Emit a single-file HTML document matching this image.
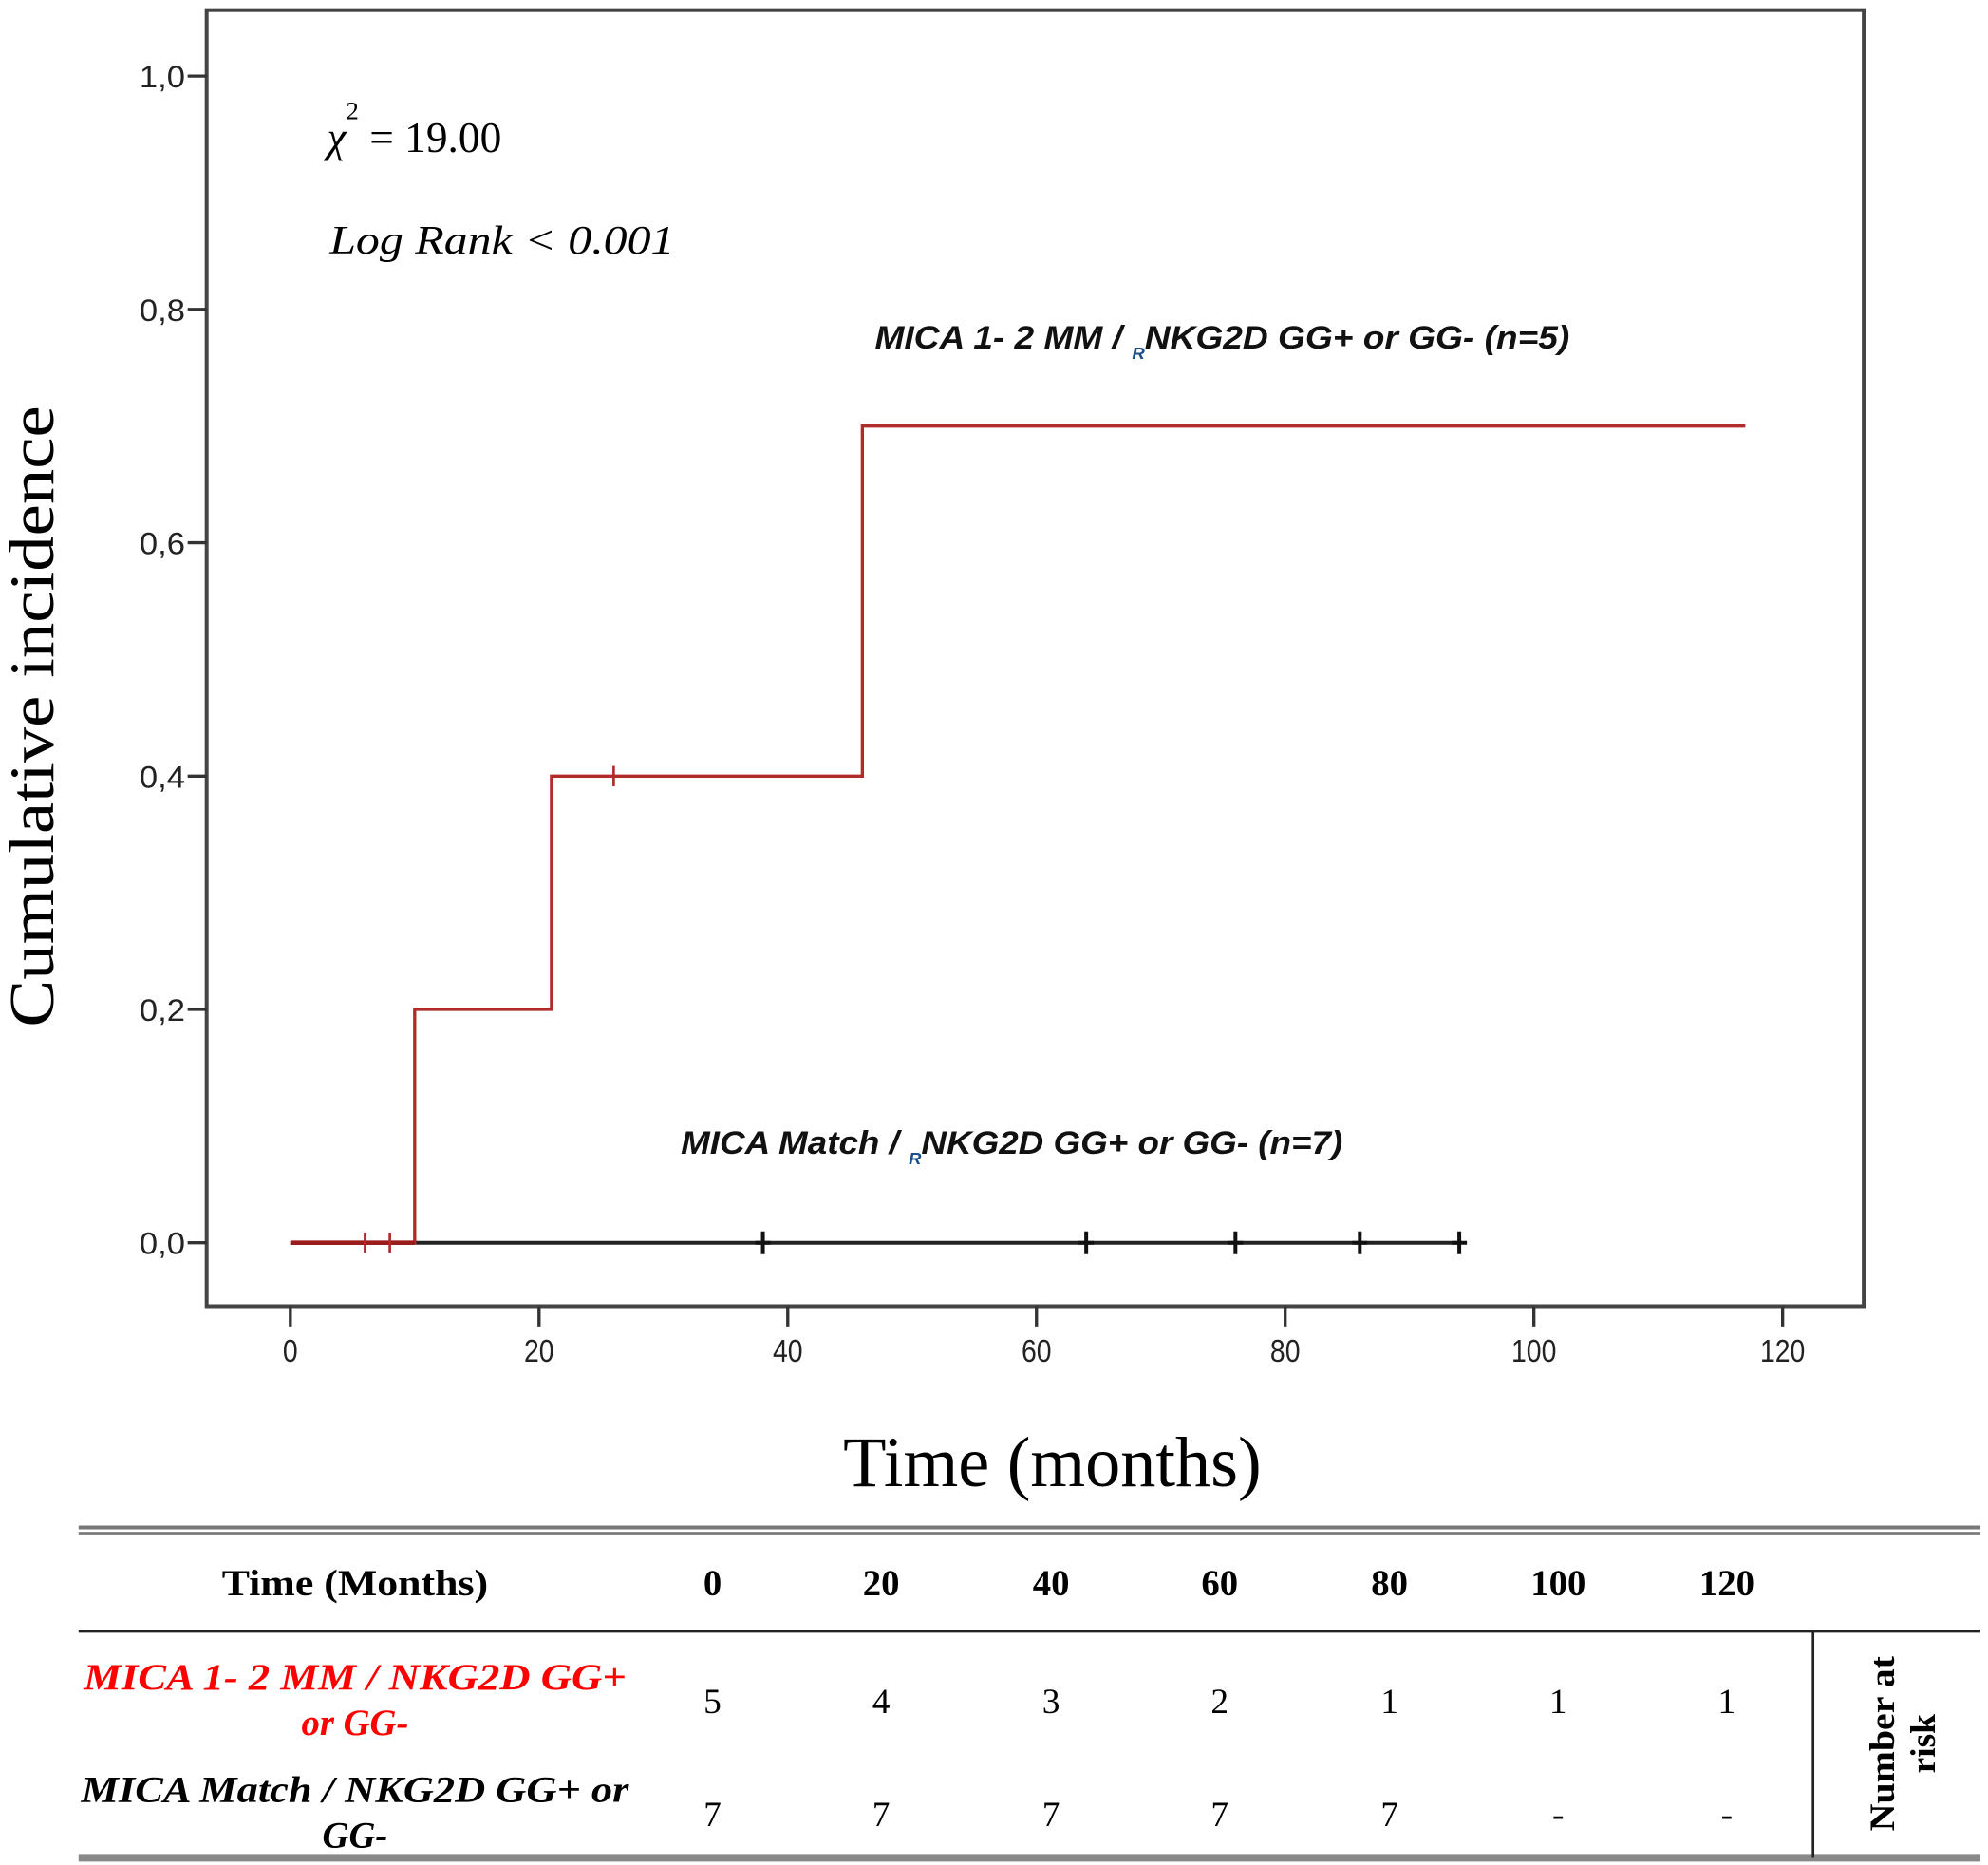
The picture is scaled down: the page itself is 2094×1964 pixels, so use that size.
<!DOCTYPE html>
<html><head><meta charset="utf-8"><style>
html,body{margin:0;padding:0;background:#fff;}
svg{display:block;}
</style></head><body>
<svg id="chart" width="2094" height="1964" viewBox="0 0 1568 1470.7" preserveAspectRatio="none" xmlns="http://www.w3.org/2000/svg">
<rect x="163" y="8" width="1307" height="1022" fill="none" stroke="#444" stroke-width="3"/>
<g id="yaxis"></g>
<g id="xaxis"></g>
<g id="series"></g>
<text x="258" y="120" font-family="Liberation Serif, serif" font-size="34"><tspan font-style="italic">χ</tspan><tspan dy="-26" font-size="20">2</tspan><tspan dy="26"> = 19.00</tspan></text>
<text x="260" y="200" font-family="Liberation Serif, serif" font-size="32" font-style="italic" textLength="272" lengthAdjust="spacingAndGlyphs">Log Rank &lt; 0.001</text>
<text x="690" y="275" font-family="Liberation Sans, sans-serif" font-size="26" font-weight="bold" font-style="italic" fill="#111" textLength="548" lengthAdjust="spacingAndGlyphs">MICA 1- 2 MM / <tspan font-size="13" dy="8" fill="#1b4f8a">R</tspan><tspan dy="-8">NKG2D GG+ or GG- (n=5)</tspan></text>
<text x="537" y="910" font-family="Liberation Sans, sans-serif" font-size="26" font-weight="bold" font-style="italic" fill="#111" textLength="522" lengthAdjust="spacingAndGlyphs">MICA Match / <tspan font-size="13" dy="8" fill="#1b4f8a">R</tspan><tspan dy="-8">NKG2D GG+ or GG- (n=7)</tspan></text>
<text transform="translate(42,565) rotate(-90)" text-anchor="middle" font-family="Liberation Serif, serif" font-size="50" textLength="490" lengthAdjust="spacingAndGlyphs">Cumulative incidence</text>
<text x="830" y="1172" text-anchor="middle" font-family="Liberation Serif, serif" font-size="56" textLength="330" lengthAdjust="spacingAndGlyphs">Time (months)</text>
<g>
<rect x="62" y="1203" width="1500" height="3" fill="#777"/>
<rect x="62" y="1208" width="1500" height="2" fill="#777"/>
<rect x="62" y="1285" width="1500" height="2.5" fill="#222"/>
<rect x="62" y="1462" width="1500" height="6" fill="#888"/>
<rect x="1429" y="1287" width="2" height="178" fill="#222"/>
<g id="table" font-family="Liberation Serif, serif" font-size="28"></g>
<text x="280" y="1258" text-anchor="middle" font-family="Liberation Serif, serif" font-weight="bold" font-size="29" textLength="210" lengthAdjust="spacingAndGlyphs">Time (Months)</text>
<text x="280" y="1332" text-anchor="middle" font-family="Liberation Serif, serif" font-weight="bold" font-style="italic" font-size="29" fill="#f00" textLength="428" lengthAdjust="spacingAndGlyphs">MICA 1- 2 MM / NKG2D GG+</text>
<text x="280" y="1368" text-anchor="middle" font-family="Liberation Serif, serif" font-weight="bold" font-style="italic" font-size="29" fill="#f00">or GG-</text>
<text x="280" y="1421" text-anchor="middle" font-family="Liberation Serif, serif" font-weight="bold" font-style="italic" font-size="29" textLength="432" lengthAdjust="spacingAndGlyphs">MICA Match / NKG2D GG+ or</text>
<text x="280" y="1457" text-anchor="middle" font-family="Liberation Serif, serif" font-weight="bold" font-style="italic" font-size="29">GG-</text>
<text transform="translate(1502,1375) rotate(-90)" text-anchor="middle" font-family="Liberation Serif, serif" font-weight="bold" font-size="28"><tspan x="0" dy="-8" textLength="138" lengthAdjust="spacingAndGlyphs">Number at</tspan><tspan x="0" dy="32">risk</tspan></text>
</g>
</svg>
<script>
const yTicks = [0, 0.2, 0.4, 0.6, 0.8, 1.0];
const yTickLabels = ["0,0","0,2","0,4","0,6","0,8","1,0"];
const xTicks = [0, 20, 40, 60, 80, 100, 120];
const mismatchTimes = [0, 10, 21, 46, 117];
const mismatchValues = [0, 0.2, 0.4, 0.7, 0.7];
const mismatchCensorTimes = [6, 8, 26];
const mismatchCensorValues = [0, 0, 0.4];
const matchTimes = [0, 94];
const matchValues = [0, 0];
const matchCensorTimes = [38, 64, 76, 86, 94];
const riskTimes = [0, 20, 40, 60, 80, 100, 120];
const riskMismatch = ["5","4","3","2","1","1","1"];
const riskMatch = ["7","7","7","7","7","-","-"];

const NS = "http://www.w3.org/2000/svg";
const xs = t => 229 + t * (1406 - 229) / 120;
const ys = v => 980 - v * (980 - 60);
function mk(tag, attrs, parent) {
  const e = document.createElementNS(NS, tag);
  for (const k in attrs) e.setAttribute(k, attrs[k]);
  parent.appendChild(e); return e;
}
const yg = document.getElementById('yaxis');
yTicks.forEach((v, i) => {
  const l = mk('line', {x1: 148, x2: 163, y1: ys(v), y2: ys(v), stroke: '#333', 'stroke-width': 2.5}, yg);
  
  
  const t = mk('text', {x: 146, y: ys(v) + 9, 'text-anchor': 'end', 'font-family': 'Liberation Sans, sans-serif', 'font-size': 24, fill: '#222', textLength: 36, lengthAdjust: 'spacingAndGlyphs'}, yg);
  t.textContent = yTickLabels[i];
  
  
});
const xg = document.getElementById('xaxis');
xTicks.forEach(v => {
  const l = mk('line', {x1: xs(v), x2: xs(v), y1: 1030, y2: 1046, stroke: '#333', 'stroke-width': 2.5}, xg);
  
  
  const t = mk('text', {x: xs(v), y: 1074, 'text-anchor': 'middle', 'font-family': 'Liberation Sans, sans-serif', 'font-size': 25, fill: '#222', transform: 'translate(' + xs(v) + ',0) scale(0.85,1) translate(' + (-xs(v)) + ',0)'}, xg);
  t.textContent = v;
  
  
});
const sg = document.getElementById('series');
function stepPath(ts, vs) {
  let d = 'M' + xs(ts[0]) + ',' + ys(vs[0]);
  for (let i = 1; i < ts.length; i++) d += ' H' + xs(ts[i]) + ' V' + ys(vs[i]);
  return d;
}
const bl = mk('path', {d: stepPath(matchTimes, matchValues), fill: 'none', stroke: '#222', 'stroke-width': 3}, sg);


matchCensorTimes.forEach((t, i) => {
  const c = mk('path', {d: 'M' + (xs(t) - 6) + ',' + ys(matchValues[0]) + ' h12 M' + xs(t) + ',' + (ys(matchValues[0]) - 9) + ' v18', stroke: '#111', 'stroke-width': 3}, sg);
  
  
});
const rl = mk('path', {d: stepPath(mismatchTimes, mismatchValues), fill: 'none', stroke: '#b22a2a', 'stroke-width': 2.5}, sg);


const rz = mk('line', {x1: xs(0), x2: xs(mismatchTimes[1]), y1: ys(0), y2: ys(0), stroke: '#9b1c1c', 'stroke-width': 3.5}, sg);


mismatchCensorTimes.forEach((t, i) => {
  const c = mk('line', {x1: xs(t), x2: xs(t), y1: ys(mismatchCensorValues[i]) - 8, y2: ys(mismatchCensorValues[i]) + 8, stroke: '#b22a2a', 'stroke-width': 2}, sg);
  
  
});
const tg = document.getElementById('table');
const colX = [562, 695, 829, 962, 1096, 1229, 1362];
riskTimes.forEach((t, i) => {
  const h = mk('text', {x: colX[i], y: 1258, 'text-anchor': 'middle', 'font-weight': 'bold', 'font-size': 29}, tg);
  h.textContent = t;
  
  
  const a = mk('text', {x: colX[i], y: 1351, 'text-anchor': 'middle'}, tg);
  a.textContent = riskMismatch[i];
  
  
  const b = mk('text', {x: colX[i], y: 1440, 'text-anchor': 'middle'}, tg);
  b.textContent = riskMatch[i];
  
  
});
</script>
</body></html>
